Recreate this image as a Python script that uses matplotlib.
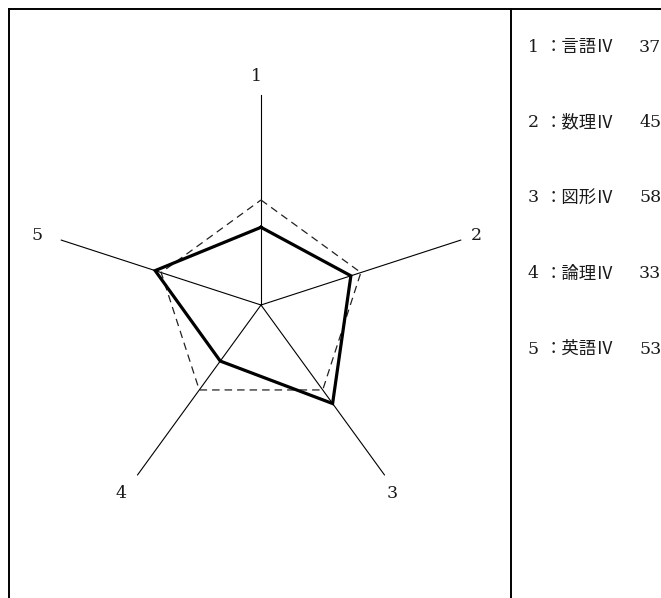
import numpy as np
import matplotlib
matplotlib.use("Agg")
import matplotlib.pyplot as plt
from matplotlib.lines import Line2D

axis_labels = ["1", "2", "3", "4", "5"]
subject_names = ["言語Ⅳ", "数理Ⅳ", "図形Ⅳ", "論理Ⅳ", "英語Ⅳ"]
scores = [37, 45, 58, 33, 53]
average = [50, 50, 50, 50, 50]
r_max = 100

W, H = 661, 598
fig = plt.figure(figsize=(W / 100, H / 100), dpi=100)
fig.patch.set_facecolor("white")

cx, cy, R = 261, H - 305, 210
ax = fig.add_axes([(cx - R) / W, (cy - R) / H, 2 * R / W, 2 * R / H], projection="polar")
ax.set_theta_offset(np.pi / 2)
ax.set_theta_direction(-1)
ax.set_ylim(0, r_max)
ax.grid(False)
ax.spines["polar"].set_visible(False)
ax.set_xticks([])
ax.set_yticks([])
ax.patch.set_alpha(0)

n = len(scores)
theta = np.arange(n) * 2 * np.pi / n
for t in theta:
    ax.plot([t, t], [0, r_max], color="black", lw=0.8, clip_on=False)

tc = np.append(theta, theta[0])
ax.plot(tc, average + average[:1], color="#222222", lw=0.9, ls=(0, (6, 4)), clip_on=False)
ax.plot(tc, scores + scores[:1], color="black", lw=2.3, solid_joinstyle="miter", clip_on=False)

serif = ["DejaVu Serif", "Noto Sans CJK JP"]
cjk = ["Noto Sans CJK JP", "DejaVu Serif"]
txt_color = "#1a1a1a"
for t, lab in zip(theta, axis_labels):
    ax.annotate(lab, xy=(t, 110), xytext=(-3, -1.5), textcoords="offset points",
                ha="center", va="center", fontsize=12.5, family=serif,
                annotation_clip=False, color=txt_color)

# frame lines
def px_line(x0, y0, x1, y1):
    fig.add_artist(Line2D([x0 / W, x1 / W], [1 - y0 / H, 1 - y1 / H],
                          transform=fig.transFigure, color="black", lw=1.4))

px_line(9, 9, W, 9)
px_line(9, 9, 9, H)
px_line(511, 9, 511, H)

for i, (lab, name, sc) in enumerate(zip(axis_labels, subject_names, scores)):
    y = 47 + i * 75.5
    t1 = fig.text(528 / W, 1 - y / H, f"{lab} ", ha="left", va="center",
                  fontsize=12.5, family=serif, color=txt_color)
    a2 = fig.add_artist(plt.Annotation(f"：{name}", xy=(1, 0.5), xycoords=t1,
                                       xytext=(0, 0), textcoords="offset points",
                                       ha="left", va="center", fontsize=12.5,
                                       family=cjk, color=txt_color))
    fig.add_artist(plt.Annotation(f"{sc}", xy=(1, 0.5), xycoords=a2,
                                  xytext=(18, 0), textcoords="offset points",
                                  ha="left", va="center", fontsize=12.5,
                                  family=serif, color=txt_color))

fig.savefig("out.png", dpi=100)
